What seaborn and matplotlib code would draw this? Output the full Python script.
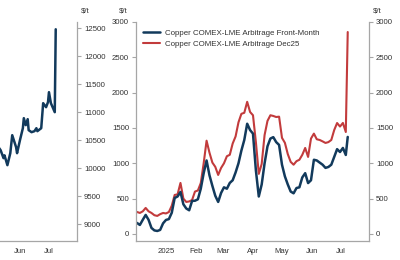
import matplotlib
matplotlib.use("Agg")
import matplotlib.pyplot as plt
import numpy as np
import pandas as pd
import seaborn as sns

# ---------------- data ----------------
arb_dates = [
    "2024-12-02", "2024-12-05", "2024-12-08", "2024-12-11", "2024-12-14", "2024-12-17",
    "2024-12-20", "2024-12-23", "2024-12-26", "2024-12-29", "2025-01-01", "2025-01-04",
    "2025-01-07", "2025-01-10", "2025-01-13", "2025-01-16", "2025-01-19", "2025-01-22",
    "2025-01-25", "2025-01-28", "2025-01-31", "2025-02-03", "2025-02-06", "2025-02-09",
    "2025-02-12", "2025-02-15", "2025-02-18", "2025-02-21", "2025-02-24", "2025-02-27",
    "2025-03-02", "2025-03-05", "2025-03-08", "2025-03-11", "2025-03-14", "2025-03-17",
    "2025-03-20", "2025-03-23", "2025-03-26", "2025-03-29", "2025-04-01", "2025-04-04",
    "2025-04-07", "2025-04-10", "2025-04-13", "2025-04-16", "2025-04-19", "2025-04-22",
    "2025-04-25", "2025-04-28", "2025-05-01", "2025-05-04", "2025-05-07", "2025-05-10",
    "2025-05-13", "2025-05-16", "2025-05-19", "2025-05-22", "2025-05-25", "2025-05-28",
    "2025-05-31", "2025-06-03", "2025-06-06", "2025-06-09", "2025-06-12", "2025-06-15",
    "2025-06-18", "2025-06-21", "2025-06-24", "2025-06-27", "2025-06-30", "2025-07-03",
    "2025-07-06", "2025-07-08",
]
front_month = [
    156, 127, 200, 269, 200, 85, 50, 42, 57, 150, 198, 210,
    300, 509, 530, 594, 420, 360, 335, 467, 470, 490, 640, 860,
    1040, 830, 680, 540, 453, 580, 660, 640, 722, 760, 870, 1000,
    1180, 1330, 1560, 1470, 1420, 900, 530, 700, 1000, 1240, 1350, 1370,
    1300, 1260, 980, 815, 700, 600, 575, 650, 660, 800, 860, 720,
    760, 1050, 1040, 1010, 980, 935, 948, 980, 1090, 1200, 1160, 1217,
    1118, 1373,
]
dec25 = [
    311, 297, 320, 368, 320, 297, 265, 255, 280, 297, 290, 310,
    400, 552, 560, 722, 500, 453, 460, 480, 600, 615, 720, 1000,
    1320, 1150, 1010, 950, 835, 934, 1000, 1100, 1120, 1280, 1380, 1580,
    1700, 1715, 1870, 1726, 1680, 1300, 850, 990, 1400, 1600, 1680, 1670,
    1655, 1660, 1360, 1290, 1130, 1020, 980, 1030, 1050, 1120, 1217, 1090,
    1350, 1420, 1340, 1330, 1310, 1288, 1300, 1330, 1470, 1570, 1520, 1571,
    1443, 2858,
]

price_dates = [
    "2025-05-08", "2025-05-12", "2025-05-15", "2025-05-16", "2025-05-19", "2025-05-21",
    "2025-05-22", "2025-05-24", "2025-05-28", "2025-05-29", "2025-06-01", "2025-06-04",
    "2025-06-05", "2025-06-07", "2025-06-09", "2025-06-10", "2025-06-13", "2025-06-16",
    "2025-06-18", "2025-06-19", "2025-06-23", "2025-06-25", "2025-06-28", "2025-06-30",
    "2025-07-01", "2025-07-03", "2025-07-07", "2025-07-08",
]
comex_price = [
    10420, 10321, 10179, 10230, 10054, 10196,
    10268, 10589, 10375, 10268, 10500, 10714,
    10893, 10768, 10875, 10679, 10643, 10661,
    10714, 10661, 10714, 11161, 11089, 11179,
    11357, 11161, 11000, 12480,
]

series_names = ["Copper COMEX-LME Arbitrage Front-Month", "Copper COMEX-LME Arbitrage Dec25"]
month_ticks = ["2025-01-01", "2025-02-01", "2025-03-01", "2025-04-01",
               "2025-05-01", "2025-06-01", "2025-07-01"]
month_labels = ["2025", "Feb", "Mar", "Apr", "May", "Jun", "Jul"]
price_month_ticks = ["2025-06-01", "2025-07-01"]
price_month_labels = ["Jun", "Jul"]
price_yticks = [9000, 9500, 10000, 10500, 11000, 11500, 12000, 12500]
arb_yticks = [0, 500, 1000, 1500, 2000, 2500, 3000]
unit_label = "$/t"

# ---------------- style ----------------
sns.set_theme(style="white")
plt.rcParams["font.family"] = ["Liberation Sans", "DejaVu Sans"]

NAVY = "#123a5c"
RED = "#c23b3c"
SPINE = "#a6a6a6"
TEXT = "#333333"

df_arb = pd.DataFrame({
    "date": pd.to_datetime(arb_dates * 2),
    "value": front_month + dec25,
    "series": [series_names[0]] * len(arb_dates) + [series_names[1]] * len(arb_dates),
})
df_price = pd.DataFrame({"date": pd.to_datetime(price_dates), "value": comex_price})

fig = plt.figure(figsize=(4, 2.6), dpi=100)
W, H = 400.0, 260.0
ax_l = fig.add_axes([-156 / W, 19 / H, 233 / W, 219 / H])
ax_m = fig.add_axes([136 / W, 19 / H, 233 / W, 219 / H])
ax_r = ax_m.twinx()

xmin, xmax = pd.Timestamp("2024-12-01"), pd.Timestamp("2025-07-30")

# left (cropped) panel: COMEX price
sns.lineplot(data=df_price, x="date", y="value", ax=ax_l, color=NAVY, linewidth=1.8)
ax_l.set_xlim(xmin, xmax)
ax_l.set_ylim(8700, 12610)
ax_l.yaxis.tick_right()
ax_l.set_yticks(price_yticks)
ax_l.set_yticklabels([str(v) for v in price_yticks])
ax_l.set_xticks(pd.to_datetime(price_month_ticks))
ax_l.set_xticklabels(price_month_labels)

# middle panel: arbitrage
d_red = df_arb[df_arb["series"] == series_names[1]]
d_blue = df_arb[df_arb["series"] == series_names[0]]
sns.lineplot(data=d_red, x="date", y="value", ax=ax_m, color=RED, linewidth=1.5,
             label=series_names[1])
sns.lineplot(data=d_blue, x="date", y="value", ax=ax_m, color=NAVY, linewidth=1.8,
             label=series_names[0])
ax_m.set_xlim(xmin, xmax)
ax_m.set_ylim(-100, 3000)
ax_r.set_ylim(-100, 3000)
ax_m.set_yticks(arb_yticks)
ax_m.set_yticklabels([str(v) for v in arb_yticks])
ax_r.set_yticks(arb_yticks)
ax_r.set_yticklabels([str(v) for v in arb_yticks])
ax_m.set_xticks(pd.to_datetime(month_ticks))
ax_m.set_xticklabels(month_labels)

handles, labels = ax_m.get_legend_handles_labels()
order = [labels.index(series_names[0]), labels.index(series_names[1])]
ax_m.legend([handles[i] for i in order], [labels[i] for i in order],
            loc="upper left", frameon=False, fontsize=5.7, handlelength=2.1,
            handletextpad=0.7, labelspacing=0.45, borderaxespad=0.5,
            labelcolor=TEXT)

for ax in (ax_l, ax_m, ax_r):
    ax.set_xlabel("")
    ax.set_ylabel("")
    ax.tick_params(axis="both", which="both", direction="out", length=3, width=0.8,
                   color=SPINE, labelsize=5.6, labelcolor=TEXT, pad=2)
    for s in ax.spines.values():
        s.set_color(SPINE)
        s.set_linewidth(0.9)
    ax.grid(False)

ax_l.spines["top"].set_visible(False)
ax_l.spines["left"].set_visible(False)
ax_m.spines["top"].set_visible(False)
ax_m.spines["right"].set_visible(False)
ax_r.spines["top"].set_visible(False)
ax_r.spines["left"].set_visible(False)
ax_r.spines["bottom"].set_visible(False)

fig.text(85 / W, 1 - 11 / H, unit_label, fontsize=5.6, color=TEXT, ha="center", va="center")
fig.text(123 / W, 1 - 11 / H, unit_label, fontsize=5.6, color=TEXT, ha="center", va="center")
fig.text(377 / W, 1 - 11 / H, unit_label, fontsize=5.6, color=TEXT, ha="center", va="center")

fig.savefig("out.png", dpi=100)
